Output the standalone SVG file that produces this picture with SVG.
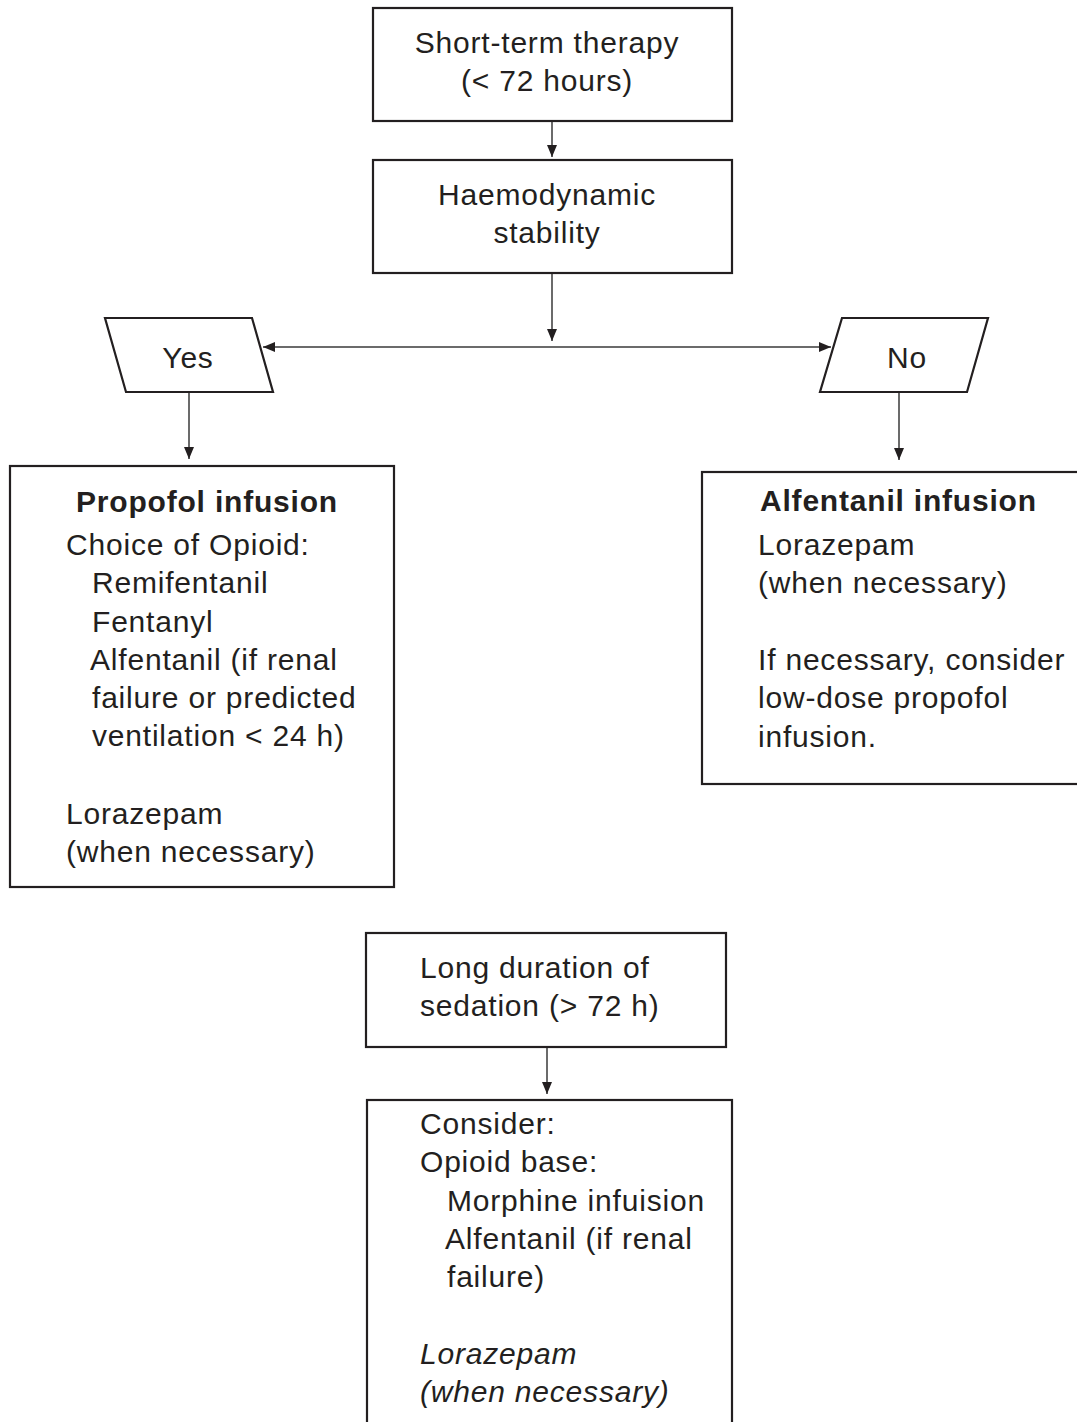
<svg xmlns="http://www.w3.org/2000/svg" width="1077" height="1422" viewBox="0 0 1077 1422">
<style>
.box{fill:#fff;stroke:#231f20;stroke-width:2.2}
.t{font-family:"Liberation Sans",Arial,sans-serif;font-size:30px;letter-spacing:0.8px;fill:#231f20}
.c{text-anchor:middle}
.b{font-weight:bold}
.i{font-style:italic}
.con{stroke:#3a3a3a;stroke-width:1.5;fill:none}
</style>
<defs>
<marker id="ah" viewBox="0 0 12 10" refX="12" refY="5" markerWidth="12" markerHeight="10" markerUnits="userSpaceOnUse" orient="auto">
<path d="M0,0 L12,5 L0,10 Z" fill="#231f20"/>
</marker>
</defs>
<g id="connectors">
<line class="con" x1="552" y1="122" x2="552" y2="157" marker-end="url(#ah)"/>
<line class="con" x1="552" y1="273" x2="552" y2="341" marker-end="url(#ah)"/>
<line class="con" x1="552" y1="347" x2="263" y2="347" marker-end="url(#ah)"/>
<line class="con" x1="552" y1="347" x2="831" y2="347" marker-end="url(#ah)"/>
<line class="con" x1="189" y1="392" x2="189" y2="459" marker-end="url(#ah)"/>
<line class="con" x1="899" y1="392" x2="899" y2="460" marker-end="url(#ah)"/>
<line class="con" x1="547" y1="1047" x2="547" y2="1094" marker-end="url(#ah)"/>
</g>
<g id="n1">
<rect class="box" x="373" y="8" width="359" height="113"/>
<text class="t c" x="547" y="53">Short-term therapy</text>
<text class="t c" x="547" y="91">(&lt; 72 hours)</text>
</g>
<g id="n2">
<rect class="box" x="373" y="160" width="359" height="113"/>
<text class="t c" x="547" y="205">Haemodynamic</text>
<text class="t c" x="547" y="243">stability</text>
</g>
<g id="yes">
<polygon class="box" points="105,318 252,318 273,392 126,392"/>
<text class="t c" x="188" y="368">Yes</text>
</g>
<g id="no">
<polygon class="box" points="842,318 988,318 967,392 820,392"/>
<text class="t c" x="907" y="368">No</text>
</g>
<g id="propofol">
<rect class="box" x="10" y="466" width="384" height="421"/>
<text class="t b c" x="207" y="512">Propofol infusion</text>
<text class="t" x="66" y="555">Choice of Opioid:</text>
<text class="t" x="92" y="593">Remifentanil</text>
<text class="t" x="92" y="632">Fentanyl</text>
<text class="t" x="90" y="670">Alfentanil (if renal</text>
<text class="t" x="92" y="708">failure or predicted</text>
<text class="t" x="92" y="746">ventilation &lt; 24 h)</text>
<text class="t" x="66" y="824">Lorazepam</text>
<text class="t" x="66" y="862">(when necessary)</text>
</g>
<g id="alfentanil">
<rect class="box" x="702" y="472" width="390" height="312"/>
<text class="t b" x="760" y="511">Alfentanil infusion</text>
<text class="t" x="758" y="555">Lorazepam</text>
<text class="t" x="758" y="593">(when necessary)</text>
<text class="t" x="758" y="670">If necessary, consider</text>
<text class="t" x="758" y="708">low-dose propofol</text>
<text class="t" x="758" y="747">infusion.</text>
</g>
<g id="long">
<rect class="box" x="366" y="933" width="360" height="114"/>
<text class="t" x="420" y="978">Long duration of</text>
<text class="t" x="420" y="1016">sedation (&gt; 72 h)</text>
</g>
<g id="consider">
<rect class="box" x="367" y="1100" width="365" height="340"/>
<text class="t" x="420" y="1134">Consider:</text>
<text class="t" x="420" y="1172">Opioid base:</text>
<text class="t" x="447" y="1211">Morphine infuision</text>
<text class="t" x="445" y="1249">Alfentanil (if renal</text>
<text class="t" x="447" y="1287">failure)</text>
<text class="t i" x="420" y="1364">Lorazepam</text>
<text class="t i" x="420" y="1402">(when necessary)</text>
</g>
</svg>
